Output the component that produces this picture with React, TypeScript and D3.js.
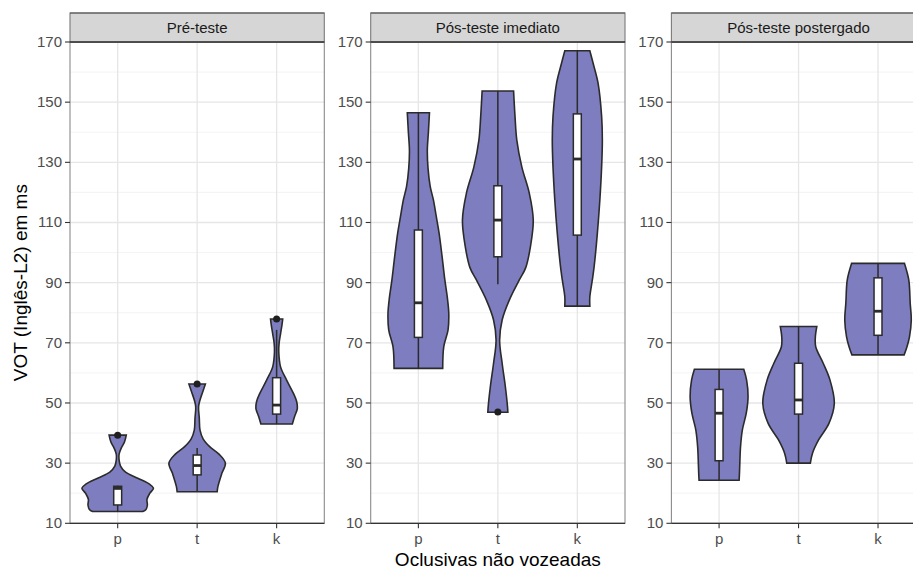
import React, { useEffect, useRef } from "react";
import * as d3 from "d3";

// facets, categories, ticks
const panels = ["Pré-teste", "Pós-teste imediato", "Pós-teste postergado"];
const stops = ["p", "t", "k"];
const yTicks = [10, 30, 50, 70, 90, 110, 130, 150, 170];
const yMinor = [20, 40, 60, 80, 100, 120, 140, 160];

// violin profiles: [VOT ms, relative half width]
const densPreP = [[13.9, 0.7], [14.6, 0.79], [16, 0.83], [18, 0.82], [20, 0.9], [21.7, 1.0], [23, 0.89], [25, 0.56], [27, 0.22], [29, 0.08], [31, 0.04], [33, 0.04], [35, 0.1], [37, 0.19], [39.3, 0.24]];
const densPreT = [[20.5, 0.56], [22.2, 0.58], [26.6, 0.69], [30, 0.79], [33, 0.61], [35.5, 0.35], [38, 0.17], [41, 0.08], [45, 0.06], [48.8, 0.04], [51, 0.08], [53.5, 0.15], [56.3, 0.23]];
const densPreK = [[43, 0.44], [45.4, 0.5], [48.2, 0.58], [50.5, 0.56], [53.2, 0.47], [57.6, 0.28], [62, 0.11], [67, 0.06], [70, 0.07], [73, 0.11], [76, 0.15], [77.9, 0.17]];
const densImP = [[61.5, 0.68], [68.7, 0.71], [74.3, 0.83], [79.8, 0.85], [85, 0.81], [90.9, 0.74], [98, 0.67], [106.4, 0.58], [112, 0.5], [117.5, 0.42], [122, 0.33], [128, 0.27], [134, 0.25], [140, 0.28], [146.5, 0.31]];
const densImT = [[46.9, 0.28], [48.8, 0.27], [55.4, 0.21], [63.2, 0.12], [70.9, 0.05], [77.6, 0.12], [84.2, 0.32], [90.9, 0.6], [95, 0.78], [101.9, 0.91], [110.8, 0.99], [119.7, 0.88], [128.5, 0.67], [137.4, 0.53], [145.2, 0.48], [153.7, 0.44]];
const densImK = [[82.2, 0.35], [85.3, 0.35], [90.9, 0.42], [95.3, 0.47], [106.4, 0.56], [117.5, 0.63], [128.5, 0.68], [137.4, 0.7], [145.2, 0.68], [156.3, 0.58], [163, 0.44], [167.1, 0.35]];
const densPostP = [[24.3, 0.56], [26.6, 0.57], [30, 0.58], [35.5, 0.6], [41, 0.65], [46.6, 0.76], [52.1, 0.81], [57.6, 0.77], [61.2, 0.69]];
const densPostT = [[30, 0.33], [33.3, 0.39], [37.7, 0.56], [43.2, 0.85], [49.9, 1.0], [57.6, 0.88], [63.2, 0.69], [68.7, 0.48], [72, 0.47], [75.4, 0.51]];
const densPostK = [[66, 0.73], [68.7, 0.81], [72, 0.88], [77.6, 0.93], [83.1, 0.9], [90.9, 0.86], [96.4, 0.74]];

// boxplot stats: [lower whisker, q1, median, q3, upper whisker]
const boxPre = [[13.9, 16.1, 21.6, 22.3, 22.5], [20.7, 26.1, 29.2, 32.7, 35], [43, 46.3, 49.3, 58.4, 74.3]];
const boxIm = [[61.5, 71.8, 83.3, 107.5, 146.5], [89.5, 98.6, 110.8, 122.2, 153.7], [82.2, 105.8, 131.1, 146.1, 167.1]];
const boxPost = [[24.3, 30.8, 46.6, 54.5, 61.2], [30, 46.3, 51, 63.2, 75.4], [66, 72.5, 80.5, 91.6, 96.4]];

// outliers: [stop, value]
const outPre = [["p", 39.3], ["t", 56.3], ["k", 77.9]];
const outIm = [["t", 47]];
const outPost = [];

const densities = [[densPreP, densPreT, densPreK], [densImP, densImT, densImK], [densPostP, densPostT, densPostK]];
const boxes = [boxPre, boxIm, boxPost];
const outliers = [outPre, outIm, outPost];

function App() {
  const ref = useRef(null);

  useEffect(() => {
    const svg = d3.select(ref.current);
    svg.selectAll("*").remove();

    const W = 913, H = 569;
    const top = 42, bottom = 523.3;
    const left0 = 70, pw = 254.3, gap = 46.4;
    const font = "'Liberation Sans', Arial, Helvetica, sans-serif";
    const ink = "#2b2b2b";

    const y = d3.scaleLinear().domain([10, 170]).range([bottom, top]);

    svg.attr("width", W).attr("height", H).style("font-family", font);
    svg.append("rect").attr("width", W).attr("height", H).attr("fill", "#fff");

    panels.forEach((name, i) => {
      const px = left0 + i * (pw + gap);
      const x = d3.scalePoint().domain(stops).range([px, px + pw]).padding(0.6);
      const step = x.step();
      const halfMax = 0.45 * step;
      const g = svg.append("g");

      // grid
      g.selectAll(".minor").data(yMinor).enter().append("line")
        .attr("x1", px).attr("x2", px + pw)
        .attr("y1", d => y(d)).attr("y2", d => y(d))
        .attr("stroke", "#f0f0f0").attr("stroke-width", 0.8);
      g.selectAll(".major").data(yTicks).enter().append("line")
        .attr("x1", px).attr("x2", px + pw)
        .attr("y1", d => y(d)).attr("y2", d => y(d))
        .attr("stroke", "#e6e6e6").attr("stroke-width", 1.3);
      g.selectAll(".vmajor").data(stops).enter().append("line")
        .attr("x1", d => x(d)).attr("x2", d => x(d))
        .attr("y1", top).attr("y2", bottom)
        .attr("stroke", "#e6e6e6").attr("stroke-width", 1.3);

      // violins
      densities[i].forEach((dens, j) => {
        const cx = x(stops[j]);
        const area = d3.area()
          .curve(d3.curveCatmullRom)
          .y(d => y(d[0]))
          .x0(d => cx - d[1] * halfMax)
          .x1(d => cx + d[1] * halfMax);
        g.append("path")
          .attr("d", area(dens))
          .attr("fill", "#7d7dc0")
          .attr("stroke", ink)
          .attr("stroke-width", 1.6);
      });

      // boxplots
      const bw = 0.1 * step;
      boxes[i].forEach((b, j) => {
        const cx = x(stops[j]);
        g.append("line")
          .attr("x1", cx).attr("x2", cx)
          .attr("y1", y(b[0])).attr("y2", y(b[4]))
          .attr("stroke", ink).attr("stroke-width", 1.5);
        g.append("rect")
          .attr("x", cx - bw / 2).attr("width", bw)
          .attr("y", y(b[3])).attr("height", y(b[1]) - y(b[3]))
          .attr("fill", "#fff").attr("stroke", ink).attr("stroke-width", 1.5);
        g.append("line")
          .attr("x1", cx - bw / 2).attr("x2", cx + bw / 2)
          .attr("y1", y(b[2])).attr("y2", y(b[2]))
          .attr("stroke", ink).attr("stroke-width", 2.8);
      });

      g.selectAll(".out").data(outliers[i]).enter().append("circle")
        .attr("cx", d => x(d[0])).attr("cy", d => y(d[1]))
        .attr("r", 3.5).attr("fill", "#1f1f1f");

      // panel border + axis lines
      g.append("rect")
        .attr("x", px).attr("y", top).attr("width", pw).attr("height", bottom - top)
        .attr("fill", "none").attr("stroke", "#8a8a8a").attr("stroke-width", 1.1);
      g.append("line")
        .attr("x1", px).attr("x2", px + pw).attr("y1", bottom).attr("y2", bottom)
        .attr("stroke", "#333").attr("stroke-width", 1.2);

      // strip
      g.append("rect")
        .attr("x", px).attr("y", 13).attr("width", pw).attr("height", top - 13)
        .attr("fill", "#d6d6d6").attr("stroke", "#7a7a7a").attr("stroke-width", 1.1);
      g.append("line")
        .attr("x1", px).attr("x2", px + pw).attr("y1", 13).attr("y2", 13)
        .attr("stroke", "#555").attr("stroke-width", 1.2);
      g.append("line")
        .attr("x1", px).attr("x2", px + pw).attr("y1", top).attr("y2", top)
        .attr("stroke", "#333").attr("stroke-width", 1.4);
      g.append("text")
        .attr("x", px + pw / 2).attr("y", 33)
        .attr("text-anchor", "middle")
        .attr("font-size", 15).attr("fill", "#1a1a1a")
        .text(name);

      // y axis
      g.selectAll(".ytick").data(yTicks).enter().append("line")
        .attr("x1", px - 5).attr("x2", px)
        .attr("y1", d => y(d)).attr("y2", d => y(d))
        .attr("stroke", "#333").attr("stroke-width", 1.1);
      g.selectAll(".ylab").data(yTicks).enter().append("text")
        .attr("x", px - 8).attr("y", d => y(d) + 5)
        .attr("text-anchor", "end")
        .attr("font-size", 15).attr("fill", "#4d4d4d")
        .text(d => d);

      // x axis
      g.selectAll(".xtick").data(stops).enter().append("line")
        .attr("x1", d => x(d)).attr("x2", d => x(d))
        .attr("y1", bottom).attr("y2", bottom + 5)
        .attr("stroke", "#333").attr("stroke-width", 1.1);
      g.selectAll(".xlab").data(stops).enter().append("text")
        .attr("x", d => x(d)).attr("y", 544)
        .attr("text-anchor", "middle")
        .attr("font-size", 15).attr("fill", "#4d4d4d")
        .text(d => d);
    });

    // axis titles
    svg.append("text")
      .attr("x", left0 + (3 * pw + 2 * gap) / 2).attr("y", 566)
      .attr("text-anchor", "middle")
      .attr("font-size", 19).attr("fill", "#000")
      .text("Oclusivas não vozeadas");
    svg.append("text")
      .attr("transform", `translate(27,${(top + bottom) / 2}) rotate(-90)`)
      .attr("text-anchor", "middle")
      .attr("font-size", 19).attr("fill", "#000")
      .text("VOT (Inglês-L2) em ms");
  }, []);

  return (
    <svg ref={ref} style={{ position: "absolute", left: 0, top: 0, display: "block" }} />
  );
}

export default App;
